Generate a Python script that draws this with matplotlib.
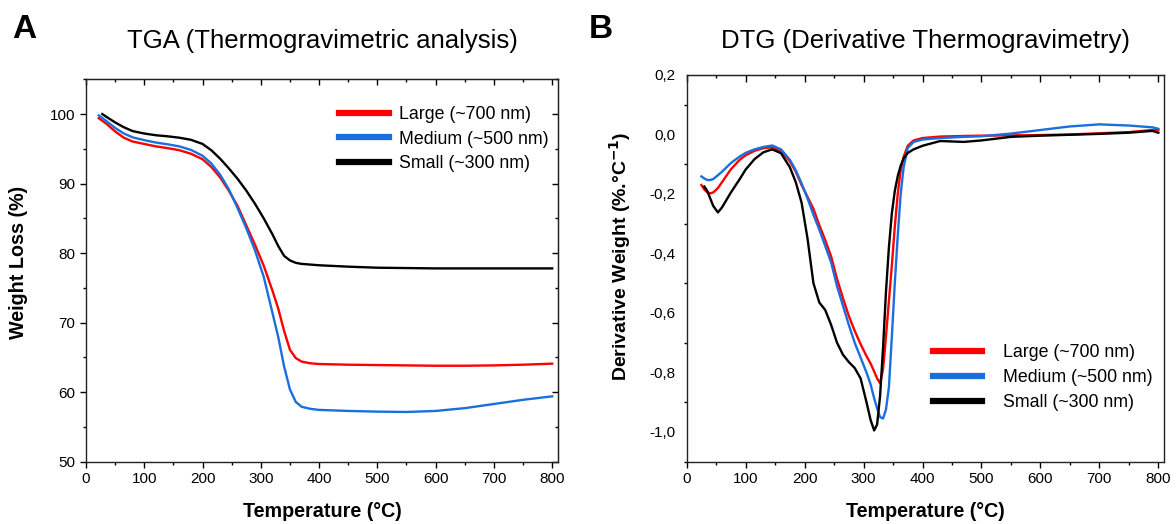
import matplotlib
matplotlib.use("Agg")
import matplotlib.pyplot as plt
from matplotlib.ticker import MultipleLocator, FuncFormatter

plt.rcParams['font.family'] = ['Liberation Sans', 'DejaVu Sans']

# %% data
labels = ["Large (~700 nm)", "Medium (~500 nm)", "Small (~300 nm)"]
colors = ["#ff0000", "#1a6fdf", "#000000"]

# TGA (weight %)
tga_temp = [22, 35, 50, 65, 80, 100, 120, 140, 160, 180, 200, 215, 230, 245, 260,
            275, 290, 305, 320, 330, 340, 350, 360, 370, 385, 400, 450, 500, 550,
            600, 650, 700, 750, 800]
tga_large = [99.4, 98.6, 97.5, 96.6, 96.05, 95.7, 95.35, 95.1, 94.8, 94.3, 93.5, 92.4,
             90.9, 89.0, 86.8, 84.0, 81.2, 78.2, 74.6, 72.0, 68.8, 66.1, 64.9, 64.4,
             64.15, 64.05, 63.95, 63.9, 63.85, 63.8, 63.8, 63.85, 63.95, 64.1]
tga_medium = [99.8, 99.0, 98.0, 97.2, 96.65, 96.25, 95.9, 95.65, 95.35, 94.85, 94.0,
              92.9, 91.3, 89.2, 86.5, 83.6, 80.4, 76.6, 71.4, 67.9, 63.7, 60.4, 58.6,
              57.9, 57.6, 57.45, 57.3, 57.2, 57.15, 57.3, 57.7, 58.3, 58.9, 59.4]
tga_small_temp = [28] + tga_temp[1:]
tga_small = [100.0, 99.6, 98.8, 98.1, 97.55, 97.2, 96.95, 96.8, 96.6, 96.3, 95.7, 94.8,
             93.6, 92.2, 90.7, 89.0, 87.1, 85.0, 82.7, 81.0, 79.6, 78.95, 78.6, 78.45,
             78.35, 78.25, 78.05, 77.9, 77.85, 77.8, 77.8, 77.8, 77.8, 77.8]

# DTG (%/°C)
dtg_temp = [25, 30, 35, 40, 45, 53, 60, 75, 90, 100, 115, 130, 145, 160, 175, 185, 195,
            205, 215, 225, 235, 245, 255, 265, 275, 285, 295, 305, 312, 318, 323, 328,
            333, 338, 343, 348, 353, 358, 363, 368, 375, 385, 400, 430, 470, 500, 550,
            600, 650, 700, 750, 790, 800]
dtg_large = [-0.17, -0.185, -0.195, -0.198, -0.195, -0.18, -0.16, -0.117, -0.085, -0.07,
             -0.055, -0.046, -0.043, -0.055, -0.09, -0.125, -0.17, -0.21, -0.25, -0.305,
             -0.355, -0.41, -0.485, -0.55, -0.61, -0.66, -0.705, -0.745, -0.77, -0.797,
             -0.82, -0.836, -0.79, -0.68, -0.56, -0.44, -0.31, -0.2, -0.12, -0.075,
             -0.038, -0.02, -0.012, -0.007, -0.005, -0.004, -0.003, -0.002, 0.0, 0.004,
             0.008, 0.015, 0.015]
dtg_medium = [-0.141, -0.148, -0.153, -0.153, -0.15, -0.137, -0.125, -0.096, -0.074,
              -0.062, -0.05, -0.042, -0.037, -0.05, -0.085, -0.12, -0.165, -0.215, -0.27,
              -0.32, -0.375, -0.43, -0.51, -0.575, -0.64, -0.7, -0.75, -0.8, -0.84,
              -0.887, -0.92, -0.95, -0.955, -0.925, -0.85, -0.68, -0.5, -0.34, -0.2,
              -0.11, -0.045, -0.025, -0.017, -0.012, -0.008, -0.006, 0.003, 0.015, 0.027,
              0.034, 0.03, 0.024, 0.019]
dtg_small_temp = dtg_temp[1:]
dtg_small = [-0.175, -0.19, -0.215, -0.24, -0.262, -0.245, -0.195, -0.15, -0.118, -0.083,
             -0.06, -0.05, -0.063, -0.11, -0.16, -0.23, -0.35, -0.5, -0.565, -0.59, -0.64,
             -0.7, -0.74, -0.765, -0.785, -0.82, -0.9, -0.96, -0.995, -0.975, -0.88,
             -0.72, -0.53, -0.38, -0.265, -0.19, -0.14, -0.105, -0.08, -0.062, -0.05,
             -0.038, -0.022, -0.025, -0.02, -0.008, -0.004, -0.001, 0.002, 0.006, 0.012,
             0.006]

# %% figure
fig = plt.figure(figsize=(11.76, 5.24), dpi=100)
axA = fig.add_axes([0.0731, 0.1189, 0.4014, 0.7298])
axB = fig.add_axes([0.5839, 0.1189, 0.4061, 0.7380])

for ax in (axA, axB):
    for s in ax.spines.values():
        s.set_linewidth(1.0)
        s.set_color("#222222")

# panel A
axA.plot(tga_temp, tga_large, color=colors[0], lw=1.7, label=labels[0])
axA.plot(tga_temp, tga_medium, color=colors[1], lw=1.7, label=labels[1])
axA.plot(tga_small_temp, tga_small, color=colors[2], lw=1.7, label=labels[2])
axA.set_xlim(0, 810)
axA.set_ylim(50, 105)
axA.xaxis.set_major_locator(MultipleLocator(100))
axA.xaxis.set_minor_locator(MultipleLocator(50))
axA.yaxis.set_major_locator(MultipleLocator(10))
axA.yaxis.set_minor_locator(MultipleLocator(5))
axA.tick_params(which='major', direction='out', length=4.5, width=1.0, labelsize=11, pad=3)
axA.tick_params(which='minor', direction='out', length=2.2, width=1.0)
topA = axA.secondary_xaxis('top')
topA.xaxis.set_major_locator(MultipleLocator(100))
topA.xaxis.set_minor_locator(MultipleLocator(50))
topA.tick_params(which='major', direction='in', length=4.5, width=1.0, labeltop=False)
topA.tick_params(which='minor', direction='in', length=2.2, width=1.0)
rightA = axA.secondary_yaxis('right')
rightA.yaxis.set_major_locator(MultipleLocator(10))
rightA.yaxis.set_minor_locator(MultipleLocator(5))
rightA.tick_params(which='major', direction='in', length=4.5, width=1.0, labelright=False)
rightA.tick_params(which='minor', direction='in', length=2.2, width=1.0)
axA.set_xlabel("Temperature (°C)", fontsize=14.2, fontweight='bold')
axA.set_ylabel("Weight Loss (%)", fontsize=14.2, fontweight='bold')
axA.xaxis.set_label_coords(0.5, -0.105)
axA.yaxis.set_label_coords(-0.122, 0.52)
axA.text(0.5, 1.10, "TGA (Thermogravimetric analysis)", transform=axA.transAxes,
         ha='center', va='center', fontsize=18.5)
axA.legend(loc='upper left', bbox_to_anchor=(0.536, 0.93), frameon=False, fontsize=12.8,
           handlelength=2.8, handletextpad=0.6, labelspacing=0.42, borderpad=0,
           borderaxespad=0)
for ln in axA.get_legend().get_lines():
    ln.set_linewidth(4.5)

# panel B
axB.plot(dtg_temp, dtg_large, color=colors[0], lw=1.7, label=labels[0])
axB.plot(dtg_temp, dtg_medium, color=colors[1], lw=1.7, label=labels[1])
axB.plot(dtg_small_temp, dtg_small, color=colors[2], lw=1.7, label=labels[2])
axB.set_xlim(0, 810)
axB.set_ylim(-1.1, 0.2)
axB.xaxis.set_major_locator(MultipleLocator(100))
axB.xaxis.set_minor_locator(MultipleLocator(50))
axB.yaxis.set_major_locator(MultipleLocator(0.2))
axB.yaxis.set_minor_locator(MultipleLocator(0.1))
axB.yaxis.set_major_formatter(FuncFormatter(lambda v, p: f"{round(v, 1) + 0.0:.1f}".replace('.', ',')))
axB.tick_params(axis='x', which='major', direction='out', length=4.5, width=1.0, labelsize=11, pad=3)
axB.tick_params(axis='x', which='minor', direction='out', length=2.2, width=1.0)
axB.tick_params(axis='y', which='major', direction='out', length=0, labelsize=11, pad=8)
axB.tick_params(axis='y', which='minor', direction='out', length=2.5, width=1.0)
topB = axB.secondary_xaxis('top')
topB.xaxis.set_major_locator(MultipleLocator(100))
topB.xaxis.set_minor_locator(MultipleLocator(50))
topB.tick_params(which='major', direction='in', length=5, width=1.0, labeltop=False)
topB.tick_params(which='minor', direction='in', length=2.5, width=1.0)
axB.set_xlabel("Temperature (°C)", fontsize=14.2, fontweight='bold')
axB.set_ylabel("Derivative Weight (%.°C$^{\\mathbf{-1}}$)", fontsize=14, fontweight='bold')
axB.xaxis.set_label_coords(0.5, -0.105)
axB.yaxis.set_label_coords(-0.112, 0.532)
axB.text(0.5, 1.088, "DTG (Derivative Thermogravimetry)", transform=axB.transAxes,
         ha='center', va='center', fontsize=18.5)
axB.legend(loc='upper left', bbox_to_anchor=(0.515, 0.305), frameon=False, fontsize=12.8,
           handlelength=2.8, handletextpad=1.15, labelspacing=0.45, borderpad=0,
           borderaxespad=0)
for ln in axB.get_legend().get_lines():
    ln.set_linewidth(4.5)

fig.text(0.0102, 0.944, "A", fontsize=24, fontweight='bold', va='center', ha='left')
fig.text(0.5006, 0.944, "B", fontsize=24, fontweight='bold', va='center', ha='left')

fig.savefig("out.png", dpi=100)
